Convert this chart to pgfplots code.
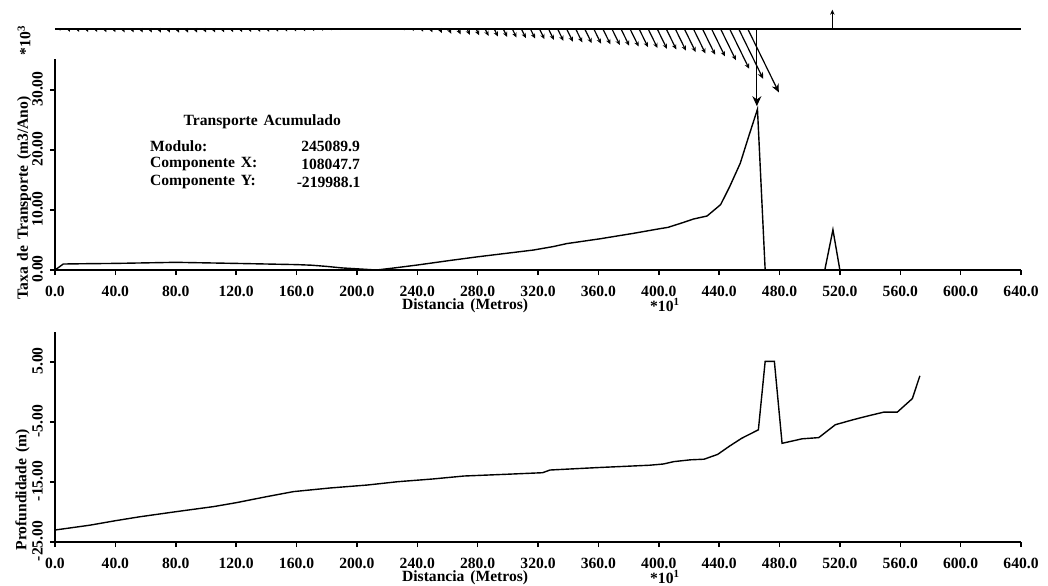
\documentclass[border=0pt]{standalone}
\usepackage{fontspec}
\setmainfont{Liberation Serif}[WordSpace=1.5]
\usepackage{pgfplots}
\usepackage{pgfplotstable}
\pgfplotsset{compat=1.18}
\usetikzlibrary{arrows.meta}

% taxa de transporte ao longo do perfil (*10^3 m3/ano)
\pgfplotstableread{
x T
0 0
5.5 1.0
20 1.05
40 1.1
80 1.28
120 1.1
160 0.9
170 0.8
180 0.6
190 0.35
200 0.2
213 0.0
225 0.35
240 0.83
262 1.6
280 2.2
299 2.78
317 3.33
330 3.9
339 4.4
361 5.2
383 6.1
401 6.9
406 7.1
416 7.9
423 8.5
432 9.0
441 10.9
447 13.9
454 17.8
459.5 22.2
465.4 26.8
470.5 0
510 0
515.4 6.7
520 0
570 0
}\transporte

% vetores de transporte (h = componente horizontal relativa)
\pgfplotstableread{
x T h
3 0.6 0.934
9 1.0 0.934
15 1.0 0.934
21 1.05 0.934
27 1.05 0.934
33 1.1 0.934
39 1.1 0.934
45 1.15 0.934
51 1.15 0.934
57 1.2 0.934
63 1.2 0.934
69 1.25 0.934
75 1.25 0.934
81 1.28 0.934
87 1.25 0.934
93 1.25 0.934
99 1.2 0.934
105 1.2 0.934
111 1.15 0.934
117 1.1 0.934
123 1.1 0.934
129 1.05 0.934
135 1.0 0.934
141 1.0 0.934
147 0.95 0.934
153 0.9 0.934
159 0.85 0.934
165 0.8 0.934
171 0.7 0.934
177 0.6 0.934
183 0.45 0.934
189 0.35 0.934
195 0.25 0.934
201 0.15 0.934
207 0.05 0.934
219 0.1 0.934
225 0.3 0.934
231 0.5 0.934
237 0.7 0.934
243 0.9 0.934
249 1.15 0.934
255 1.4 0.934
261 1.65 0.934
267 1.85 0.934
273 2.05 0.934
279 2.2 0.934
285 2.4 0.934
291 2.6 0.934
297 2.75 0.934
303 2.95 0.934
309 3.15 0.934
315 3.3 0.934
321 3.5 0.934
327 3.75 0.934
333 4.1 0.934
339 4.4 0.934
345 4.65 0.934
351 4.9 0.934
357 5.1 0.934
363 5.3 0.934
369 5.55 0.934
375 5.8 0.934
381 6.05 0.934
387 6.3 0.934
393 6.6 0.934
399 6.9 0.934
405 7.1 0.934
411 7.5 0.934
417 8.0 0.934
423 8.5 0.934
429 8.9 0.934
435 9.5 0.934
441 10.8 0.934
447 13.8 0.934
453 17.3 0.934
459 22.0 0.934
465 26.8 0
515 -6.7 0
}\vetores

% profundidade (m)
\pgfplotstableread{
x z
0 -23.0
23 -22.2
40 -21.45
56 -20.8
80 -19.95
105 -19.1
120 -18.45
140 -17.45
158 -16.6
182 -16.0
207 -15.5
227 -14.95
250 -14.5
271 -14.0
300 -13.7
323 -13.45
328 -13.0
359 -12.6
394 -12.2
403 -12.0
410 -11.6
421 -11.3
430 -11.2
439 -10.4
447 -9.0
455 -7.7
466 -6.3
470.5 5.1
476.6 5.1
481.7 -8.55
495 -7.8
506 -7.6
517 -5.45
529 -4.6
540 -3.9
549 -3.36
558 -3.36
568 -1.1
573 2.7
}\profundidade

\pgfplotsset{
  perfil/.style={
    scale only axis, width=483pt,
    xmin=0, xmax=640,
    axis lines*=left,
    axis line style={line width=0.75pt},
    tick align=outside, major tick length=2.5pt,
    tick style={line width=0.75pt, black},
    xtick={0,40,...,640},
    /pgf/number format/assume math mode=true,
    every tick label/.append style={font=\fontsize{7.8}{9}\selectfont\bfseries},
    xticklabel style={yshift=-2pt, /pgf/number format/.cd, fixed, fixed zerofill, precision=1},
    yticklabel style={rotate=90, anchor=south, xshift=0.5pt, /pgf/number format/.cd, fixed, fixed zerofill, precision=2},
    clip=false,
    font=\fontsize{7.8}{9}\selectfont\bfseries,
  },
  linha/.style={black, line width=0.7pt, mark=none},
}

\begin{document}
\begin{tikzpicture}
\path[use as bounding box] (-27.5pt,-157.5pt) rectangle (496.5pt,135pt);

\begin{axis}[perfil, at={(0,0)}, anchor=south west,
  height=105.5pt, ymin=0, ymax=35.17, ytick={0,10,20,30}]
  \addplot[linha] table[x=x, y=T] {\transporte};
  \addplot[linha] coordinates {(0,40.17) (640,40.17)};
  \addplot[black, line width=0.6pt, mark=none,
    point meta={abs(\thisrow{T})}, point meta min=0, point meta max=26.8,
    quiver={u=\thisrow{h}*\thisrow{T}, v=-0.48*\thisrow{T},
      every arrow/.append style={-{Stealth[length=5pt, width=4.5pt,
        scale={max(\pgfplotspointmetatransformed/1000, min(0.5, \pgfplotspointmetatransformed*0.009))}]}}}]
    table[x=x, y expr=40.17] {\vetores};
  \node[rotate=90] at (axis cs:-20.5,38.3) {*10\textsuperscript{3}};
  \node[rotate=90] at (axis cs:-20.5,12) {Taxa de Transporte (m3/Ano)};
  \node at (axis cs:271.7,-6) {Distancia (Metros)};
  \node at (axis cs:404.2,-5.8) {*10\textsuperscript{1}};
  \node at (axis cs:137.3,24.67) {Transporte Acumulado};
  \node[anchor=west] at (axis cs:58.3,20.67) {Modulo:};
  \node[anchor=west] at (axis cs:58.3,17.67) {Componente X:};
  \node[anchor=west] at (axis cs:58.3,14.67) {Componente Y:};
  \node[anchor=west] at (axis cs:158.5,20.67) {245089.9};
  \node[anchor=west] at (axis cs:158.5,17.67) {108047.7};
  \node[anchor=west] at (axis cs:155.5,14.67) {-219988.1};
\end{axis}

\begin{axis}[perfil, at={(0,-136pt)}, anchor=south west,
  height=105pt, ymin=-25, ymax=10, ytick={-25,-15,-5,5}]
  \addplot[linha] table[x=x, y=z] {\profundidade};
  \node[rotate=90] at (axis cs:-21.5,-16.33) {Profundidade (m)};
  \node at (axis cs:271.7,-31) {Distancia (Metros)};
  \node at (axis cs:404.2,-30.8) {*10\textsuperscript{1}};
\end{axis}
\end{tikzpicture}
\end{document}
